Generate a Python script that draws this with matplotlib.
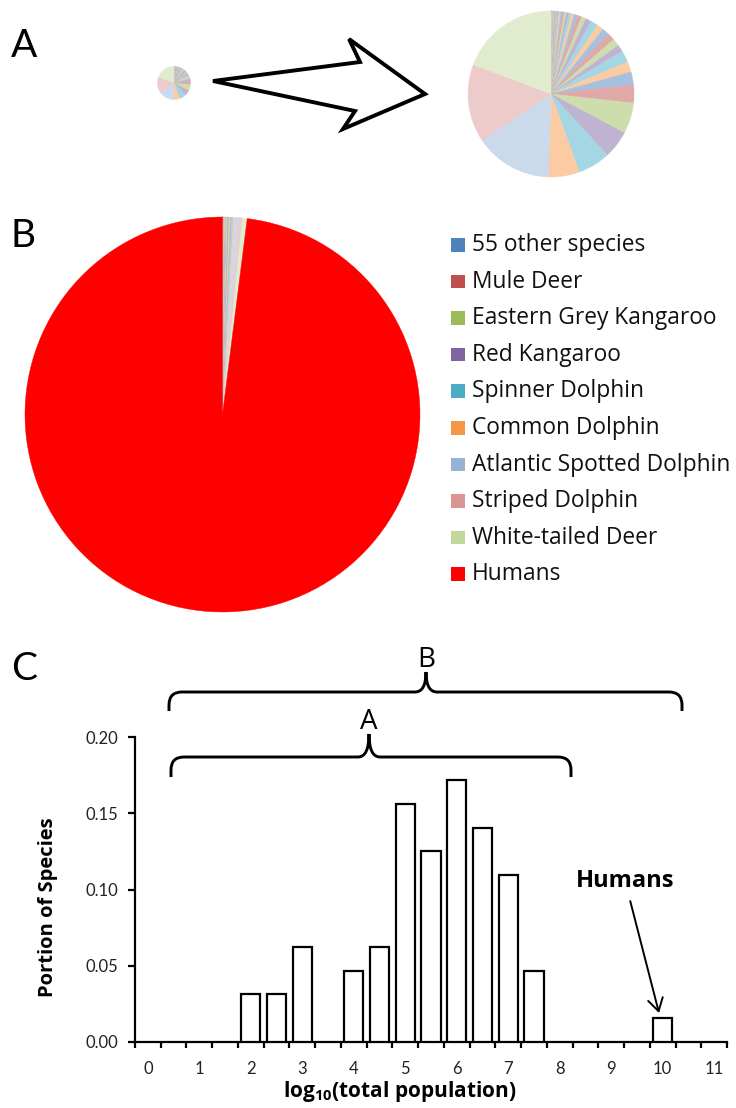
import numpy as np
import matplotlib
matplotlib.use("Agg")
import matplotlib.pyplot as plt
from matplotlib.patches import Polygon, Rectangle, PathPatch
from matplotlib.path import Path
from matplotlib.colors import to_rgb

plt.rcParams['font.family'] = ['Lato', 'DejaVu Sans']
plt.rcParams['mathtext.fontset'] = 'custom'
plt.rcParams['mathtext.rm'] = 'Open Sans:bold'
plt.rcParams['mathtext.it'] = 'Open Sans:bold'
plt.rcParams['mathtext.bf'] = 'Open Sans:bold'
plt.rcParams['mathtext.default'] = 'rm'
WIDE = ['Open Sans', 'DejaVu Sans']

# ---------------- data ----------------
# population estimates (millions), in pie order (clockwise from 12 o'clock)
other_species_pop = [0.0002, 0.0003, 0.0004, 0.0006, 0.0008, 0.001, 0.0015, 0.002,
                     0.0025, 0.003, 0.004, 0.005, 0.006, 0.008, 0.01, 0.013, 0.016,
                     0.02, 0.025, 0.03, 0.035, 0.042, 0.05, 0.06, 0.07, 0.085, 0.1,
                     0.12, 0.14, 0.16, 0.19, 0.22, 0.26, 0.3, 0.35, 0.4, 0.45, 0.52,
                     0.6, 0.65, 0.75, 0.85, 0.95, 1.1,
                     1.3, 1.6, 2.0, 1.9, 2.0, 2.0, 2.1, 1.9, 3.3, 2.9, 3.6]
named_species = ['Mule Deer', 'Eastern Grey Kangaroo', 'Red Kangaroo', 'Spinner Dolphin',
                 'Common Dolphin', 'Atlantic Spotted Dolphin', 'Striped Dolphin',
                 'White-tailed Deer']
named_pop = [5.0, 8.6, 7.7, 9.0, 8.6, 21.6, 21.6, 27.5]
human_pop = 7000.0

legend_labels = ['55 other species'] + named_species + ['Humans']
legend_colors = ['#4F81BD', '#C0504D', '#9BBB59', '#8064A2', '#4BACC6', '#F79646',
                 '#95B3D7', '#D99694', '#C3D69B', '#FF0000']
accent_cycle = ['#4F81BD', '#C0504D', '#9BBB59', '#8064A2', '#4BACC6', '#F79646']

hist_categories = ['0', '0.5', '1', '1.5', '2', '2.5', '3', '3.5', '4', '4.5', '5', '5.5',
                   '6', '6.5', '7', '7.5', '8', '8.5', '9', '9.5', '10', '10.5', '11']
hist_portion = [0, 0, 0, 0, 0.03125, 0.03125, 0.0625, 0, 0.046875, 0.0625, 0.15625,
                0.125, 0.171875, 0.140625, 0.109375, 0.046875, 0, 0, 0, 0, 0.015625, 0, 0]
x_tick_labels = ['0', '1', '2', '3', '4', '5', '6', '7', '8', '9', '10', '11']
y_ticks = [0.0, 0.05, 0.10, 0.15, 0.20]

# ---------------- figure ----------------
W, H = 736, 1108
fig = plt.figure(figsize=(W / 100, H / 100), dpi=100)


def px_axes(x0, y0, x1, y1, **kw):
    return fig.add_axes([x0 / W, 1 - y1 / H, (x1 - x0) / W, (y1 - y0) / H], **kw)


def pale(c, a=0.5):
    r, g, b = to_rgb(c)
    return (1 - a * (1 - r), 1 - a * (1 - g), 1 - a * (1 - b))


nonhuman_vals = other_species_pop + named_pop
nonhuman_cols = [accent_cycle[i % 6] for i in range(len(other_species_pop))] + legend_colors[1:9]
nonhuman_pale = [pale(c) for c in nonhuman_cols]


def draw_pie(cx, cy, r, vals, cols):
    ax = px_axes(cx - r, cy - r, cx + r, cy + r)
    wedges, _ = ax.pie(vals, colors=cols, startangle=90, counterclock=False,
                       wedgeprops=dict(linewidth=0.3))
    for w in wedges:
        w.set_edgecolor(w.get_facecolor())
    ax.set_xlim(-1.0, 1.0)
    ax.set_ylim(-1.0, 1.0)
    ax.axis('off')
    return ax


# Panel A: small and large pies of non-human species
draw_pie(174, 83, 16.5, nonhuman_vals, nonhuman_pale)
draw_pie(551, 94, 83, nonhuman_vals, nonhuman_pale)

# Panel B: all species including humans
draw_pie(222.5, 414.5, 197.5, nonhuman_vals + [human_pop], nonhuman_pale + [legend_colors[-1]])

# Panel C: histogram
ax = px_axes(135, 737, 727, 1042)
xpos = np.arange(len(hist_categories))
vals = np.array(hist_portion)
mask = vals > 0
ax.bar(xpos[mask], vals[mask], width=0.75, color='white', edgecolor='black',
       linewidth=1.6, zorder=3)
ax.set_xlim(-0.5, len(hist_categories) - 0.5)
ax.set_ylim(0, 0.2)
for s in ['top', 'right']:
    ax.spines[s].set_visible(False)
for s in ['left', 'bottom']:
    ax.spines[s].set_linewidth(1.6)
ax.set_yticks(y_ticks)
ax.set_yticklabels(['%.2f' % v for v in y_ticks], fontsize=12, color='#222222')
ax.tick_params(axis='y', length=5, width=1.6, pad=7)
ax.set_xticks(np.arange(-0.5, len(hist_categories), 1.0))
ax.set_xticklabels([])
ax.tick_params(axis='x', which='major', length=4.5, width=1.6)
ax.set_xticks(xpos[::2], minor=True)
ax.set_xticklabels(x_tick_labels, minor=True, fontsize=12, color='#222222')
ax.tick_params(axis='x', which='minor', length=0, pad=14)
ax.patch.set_alpha(0)

ax.annotate('Humans', xy=(19.86, 0.019), xytext=(18.54, 0.1056), ha='center', va='center',
            fontsize=17, fontweight='bold', family=WIDE,
            arrowprops=dict(arrowstyle='->,head_length=0.5,head_width=0.3', lw=1.4,
                            color='black', shrinkA=4, shrinkB=0, mutation_scale=18))

# overlay in pixel coordinates
ov = fig.add_axes([0, 0, 1, 1], zorder=10)
ov.set_xlim(0, W)
ov.set_ylim(H, 0)
ov.axis('off')
ov.patch.set_alpha(0)

# panel letters
ov.text(24.5, 57, 'A', fontsize=28, ha='center', va='baseline')
ov.text(23, 247, 'B', fontsize=28, ha='center', va='baseline')
ov.text(24, 680, 'C', fontsize=28, ha='center', va='baseline')

# hollow arrow in panel A
arrow_pts = [(213, 81), (360, 62), (349, 39), (425, 94), (343, 129), (355, 111)]
ov.add_patch(Polygon(arrow_pts, closed=True, fill=False, edgecolor='black', lw=2.8,
                     joinstyle='miter'))

# legend for panel B
for i, (lab, col) in enumerate(zip(legend_labels, legend_colors)):
    yc = 245 + i * 36.6
    ov.add_patch(Rectangle((451, yc - 7), 13.5, 13.5, facecolor=col, edgecolor='none'))
    ov.text(472, yc, lab, fontsize=16.4, ha='left', va='center', color='#111111',
            family=WIDE)


# braces in panel C
def brace(xl, xr, xc, y0, yend, ytop, r=13, rc=11, label=''):
    verts = [(xl, yend), (xl, y0 + r), (xl, y0), (xl + r, y0), (xc - rc, y0),
             (xc, y0), (xc, ytop), (xc, y0), (xc + rc, y0), (xr - r, y0),
             (xr, y0), (xr, y0 + r), (xr, yend)]
    codes = [Path.MOVETO, Path.LINETO, Path.CURVE3, Path.CURVE3, Path.LINETO,
             Path.CURVE3, Path.CURVE3, Path.CURVE3, Path.CURVE3, Path.LINETO,
             Path.CURVE3, Path.CURVE3, Path.LINETO]
    ov.add_patch(PathPatch(Path(verts, codes), fill=False, lw=2.1, edgecolor='black',
                           capstyle='butt'))
    ov.text(xc, ytop - 5, label, fontsize=20, ha='center', va='baseline', family=WIDE)


brace(169, 682, 426, 692, 711, 672, label='B')
brace(171, 571, 369, 757, 777, 734, label='A')

# axis labels
ov.text(48, 907, 'Portion of Species', rotation=90, fontsize=14.5, fontweight='bold',
        ha='center', va='center', family=WIDE)
ov.text(400, 1091, r'log$_{10}$(total population)', fontsize=15, fontweight='bold',
        ha='center', va='center', family=WIDE)

fig.savefig('out.png', dpi=100)
